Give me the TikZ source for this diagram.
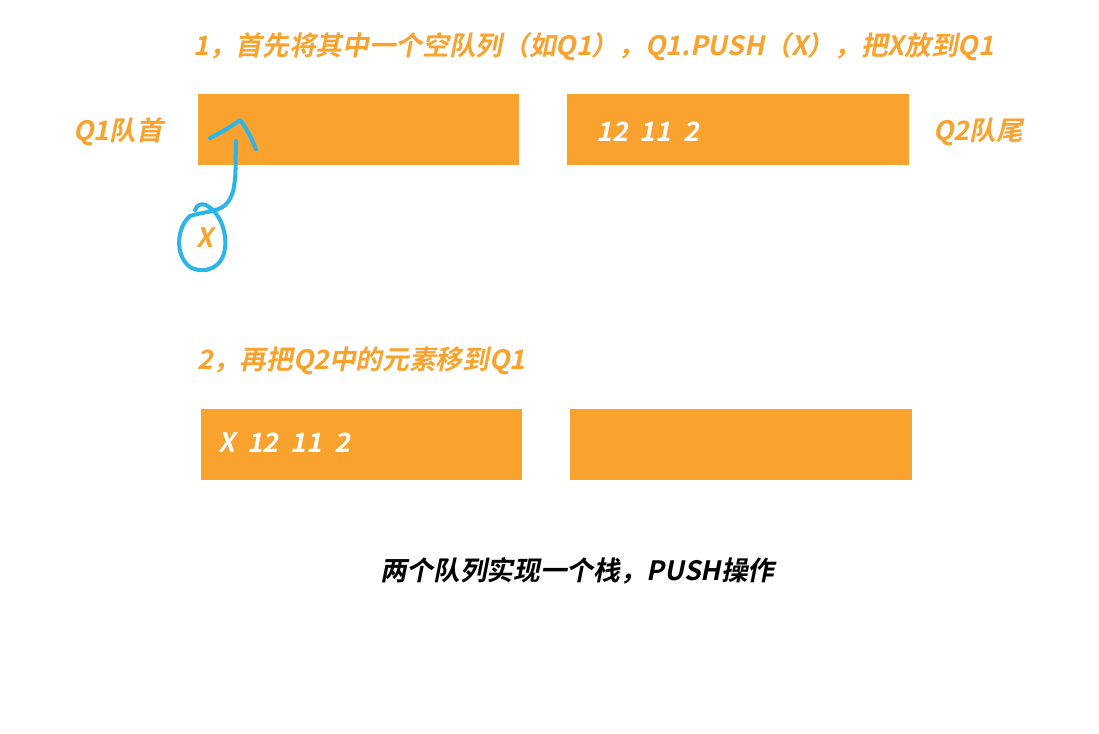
\documentclass[tikz,border=0pt]{standalone}
\usepackage{fontspec}
\newfontfamily\cjkb[FakeSlant=0.2]{Noto Sans CJK SC Bold}
\definecolor{qorange}{HTML}{F9A22D}
\definecolor{qblue}{HTML}{2BB5E8}
\begin{document}
\begin{tikzpicture}[x=0.75pt,y=-0.75pt,
  qbox/.style={fill=qorange,draw=none},
  otext/.style={text=qorange,font=\cjkb\fontsize{20}{24}\selectfont,anchor=west,inner sep=0pt},
  wtext/.style={text=white,font=\cjkb\fontsize{20}{24}\selectfont,anchor=west,inner sep=0pt},
  ktext/.style={text=black,font=\cjkb\fontsize{20}{24}\selectfont,anchor=west,inner sep=0pt},
  pen/.style={draw=qblue,line width=3pt,line cap=round,line join=round}]
\useasboundingbox[fill=white] (0,0) rectangle (1099,733);
\node[otext] (t1) at (193,47) {1，首先将其中一个空队列（如Q1），Q1.PUSH（X），把X放到Q1};
\node[otext] (q1h) at (73,132) {Q1队首};
\node[otext] (q2t) at (933,132) {Q2队尾};
\fill[qbox] (198,94) rectangle (519,165);
\fill[qbox] (567,94) rectangle (909,165);
\node[wtext] (v2) at (596,132) {12\ \ 11\ \ 2};
\node[otext] (x) at (196,238) {X};
\draw[pen] (236,141) .. controls (235,170) and (238,195) .. (224,206)
  .. controls (216,212) and (202,212) .. (190,216)
  .. controls (176,228) and (175,256) .. (190,267)
  .. controls (204,275) and (223,268) .. (225,248)
  .. controls (227,230) and (219,212) .. (206,205)
  .. controls (201,203) and (197,205) .. (195,210);
\draw[pen] (210,138) .. controls (222,132) and (232,126) .. (240,120)
  .. controls (248,130) and (252,140) .. (256,149);
\node[otext] (t2) at (197,361) {2，再把Q2中的元素移到Q1};
\fill[qbox] (201,409) rectangle (522,480);
\fill[qbox] (570,409) rectangle (912,480);
\node[wtext] (v1) at (218,443) {X\ \ 12\ \ 11\ \ 2};
\node[ktext] (cap) at (380,571) {两个队列实现一个栈，PUSH操作};
\end{tikzpicture}
\end{document}
